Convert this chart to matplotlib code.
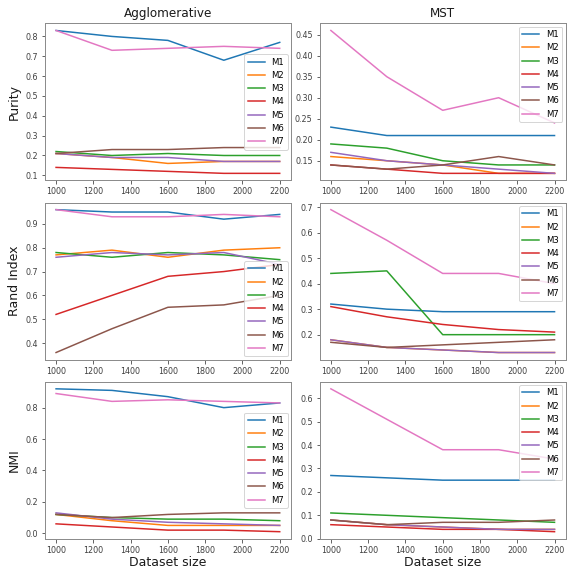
import matplotlib
matplotlib.use("Agg")
import matplotlib.pyplot as plt

sizes = [1000, 1300, 1600, 1900, 2200]
methods = ["M1", "M2", "M3", "M4", "M5", "M6", "M7"]

agg_purity = {
    "M1": [0.83, 0.80, 0.78, 0.68, 0.77],
    "M2": [0.21, 0.19, 0.16, 0.17, 0.17],
    "M3": [0.22, 0.20, 0.21, 0.20, 0.20],
    "M4": [0.14, 0.13, 0.12, 0.11, 0.11],
    "M5": [0.21, 0.19, 0.19, 0.17, 0.17],
    "M6": [0.21, 0.23, 0.23, 0.24, 0.24],
    "M7": [0.83, 0.73, 0.74, 0.75, 0.74],
}
mst_purity = {
    "M1": [0.23, 0.21, 0.21, 0.21, 0.21],
    "M2": [0.16, 0.15, 0.14, 0.12, 0.12],
    "M3": [0.19, 0.18, 0.15, 0.14, 0.14],
    "M4": [0.14, 0.13, 0.12, 0.12, 0.12],
    "M5": [0.17, 0.15, 0.14, 0.13, 0.12],
    "M6": [0.14, 0.13, 0.14, 0.16, 0.14],
    "M7": [0.46, 0.35, 0.27, 0.30, 0.24],
}
agg_rand = {
    "M1": [0.96, 0.95, 0.95, 0.92, 0.94],
    "M2": [0.77, 0.79, 0.76, 0.79, 0.80],
    "M3": [0.78, 0.76, 0.78, 0.77, 0.75],
    "M4": [0.52, 0.60, 0.68, 0.70, 0.73],
    "M5": [0.76, 0.78, 0.77, 0.78, 0.73],
    "M6": [0.36, 0.46, 0.55, 0.56, 0.60],
    "M7": [0.96, 0.93, 0.93, 0.94, 0.93],
}
mst_rand = {
    "M1": [0.32, 0.30, 0.29, 0.29, 0.29],
    "M2": [0.18, 0.15, 0.14, 0.13, 0.13],
    "M3": [0.44, 0.45, 0.20, 0.20, 0.20],
    "M4": [0.31, 0.27, 0.24, 0.22, 0.21],
    "M5": [0.18, 0.15, 0.14, 0.13, 0.13],
    "M6": [0.17, 0.15, 0.16, 0.17, 0.18],
    "M7": [0.69, 0.57, 0.44, 0.44, 0.40],
}
agg_nmi = {
    "M1": [0.92, 0.91, 0.87, 0.80, 0.83],
    "M2": [0.12, 0.08, 0.05, 0.05, 0.05],
    "M3": [0.12, 0.10, 0.09, 0.09, 0.08],
    "M4": [0.06, 0.04, 0.02, 0.02, 0.01],
    "M5": [0.13, 0.09, 0.07, 0.06, 0.05],
    "M6": [0.12, 0.10, 0.12, 0.13, 0.13],
    "M7": [0.89, 0.84, 0.85, 0.84, 0.83],
}
mst_nmi = {
    "M1": [0.27, 0.26, 0.25, 0.25, 0.25],
    "M2": [0.08, 0.06, 0.05, 0.04, 0.04],
    "M3": [0.11, 0.10, 0.09, 0.08, 0.07],
    "M4": [0.06, 0.05, 0.04, 0.04, 0.03],
    "M5": [0.08, 0.06, 0.05, 0.04, 0.04],
    "M6": [0.08, 0.06, 0.07, 0.07, 0.08],
    "M7": [0.64, 0.51, 0.38, 0.38, 0.34],
}

col_titles = ["Agglomerative", "MST"]
row_labels = ["Purity", "Rand Index", "NMI"]
data = [[agg_purity, mst_purity], [agg_rand, mst_rand], [agg_nmi, mst_nmi]]
legend_locs = [["center right", "upper right"],
               ["lower right", "upper right"],
               ["center right", "upper right"]]

plt.rcParams["font.family"] = "DejaVu Sans"
fig, axes = plt.subplots(3, 2, figsize=(568 / 72, 569 / 72), dpi=72)
fig.subplots_adjust(left=0.079, right=0.996, top=0.959, bottom=0.053,
                    wspace=0.117, hspace=0.14)

for r in range(3):
    for c in range(2):
        ax = axes[r][c]
        d = data[r][c]
        for m in methods:
            ax.plot(sizes, d[m], label=m, linewidth=1.5)
        ax.set_xticks([1000, 1200, 1400, 1600, 1800, 2000, 2200])
        ax.tick_params(labelsize=8, colors="0.25", length=3.5, width=0.8)
        for s in ax.spines.values():
            s.set_color("0.55")
            s.set_linewidth(1.0)
        ax.legend(loc=legend_locs[r][c], fontsize=8.5, framealpha=0.8,
                  edgecolor="0.8", borderaxespad=0.4)
        if r == 0:
            ax.set_title(col_titles[c], fontsize=12, color="0.1")
        if c == 0:
            ax.set_ylabel(row_labels[r], fontsize=12.5, color="0.1")
        if r == 2:
            ax.set_xlabel("Dataset size", fontsize=12.5, color="0.1", labelpad=1)

fig.savefig("out.png", dpi=72)
